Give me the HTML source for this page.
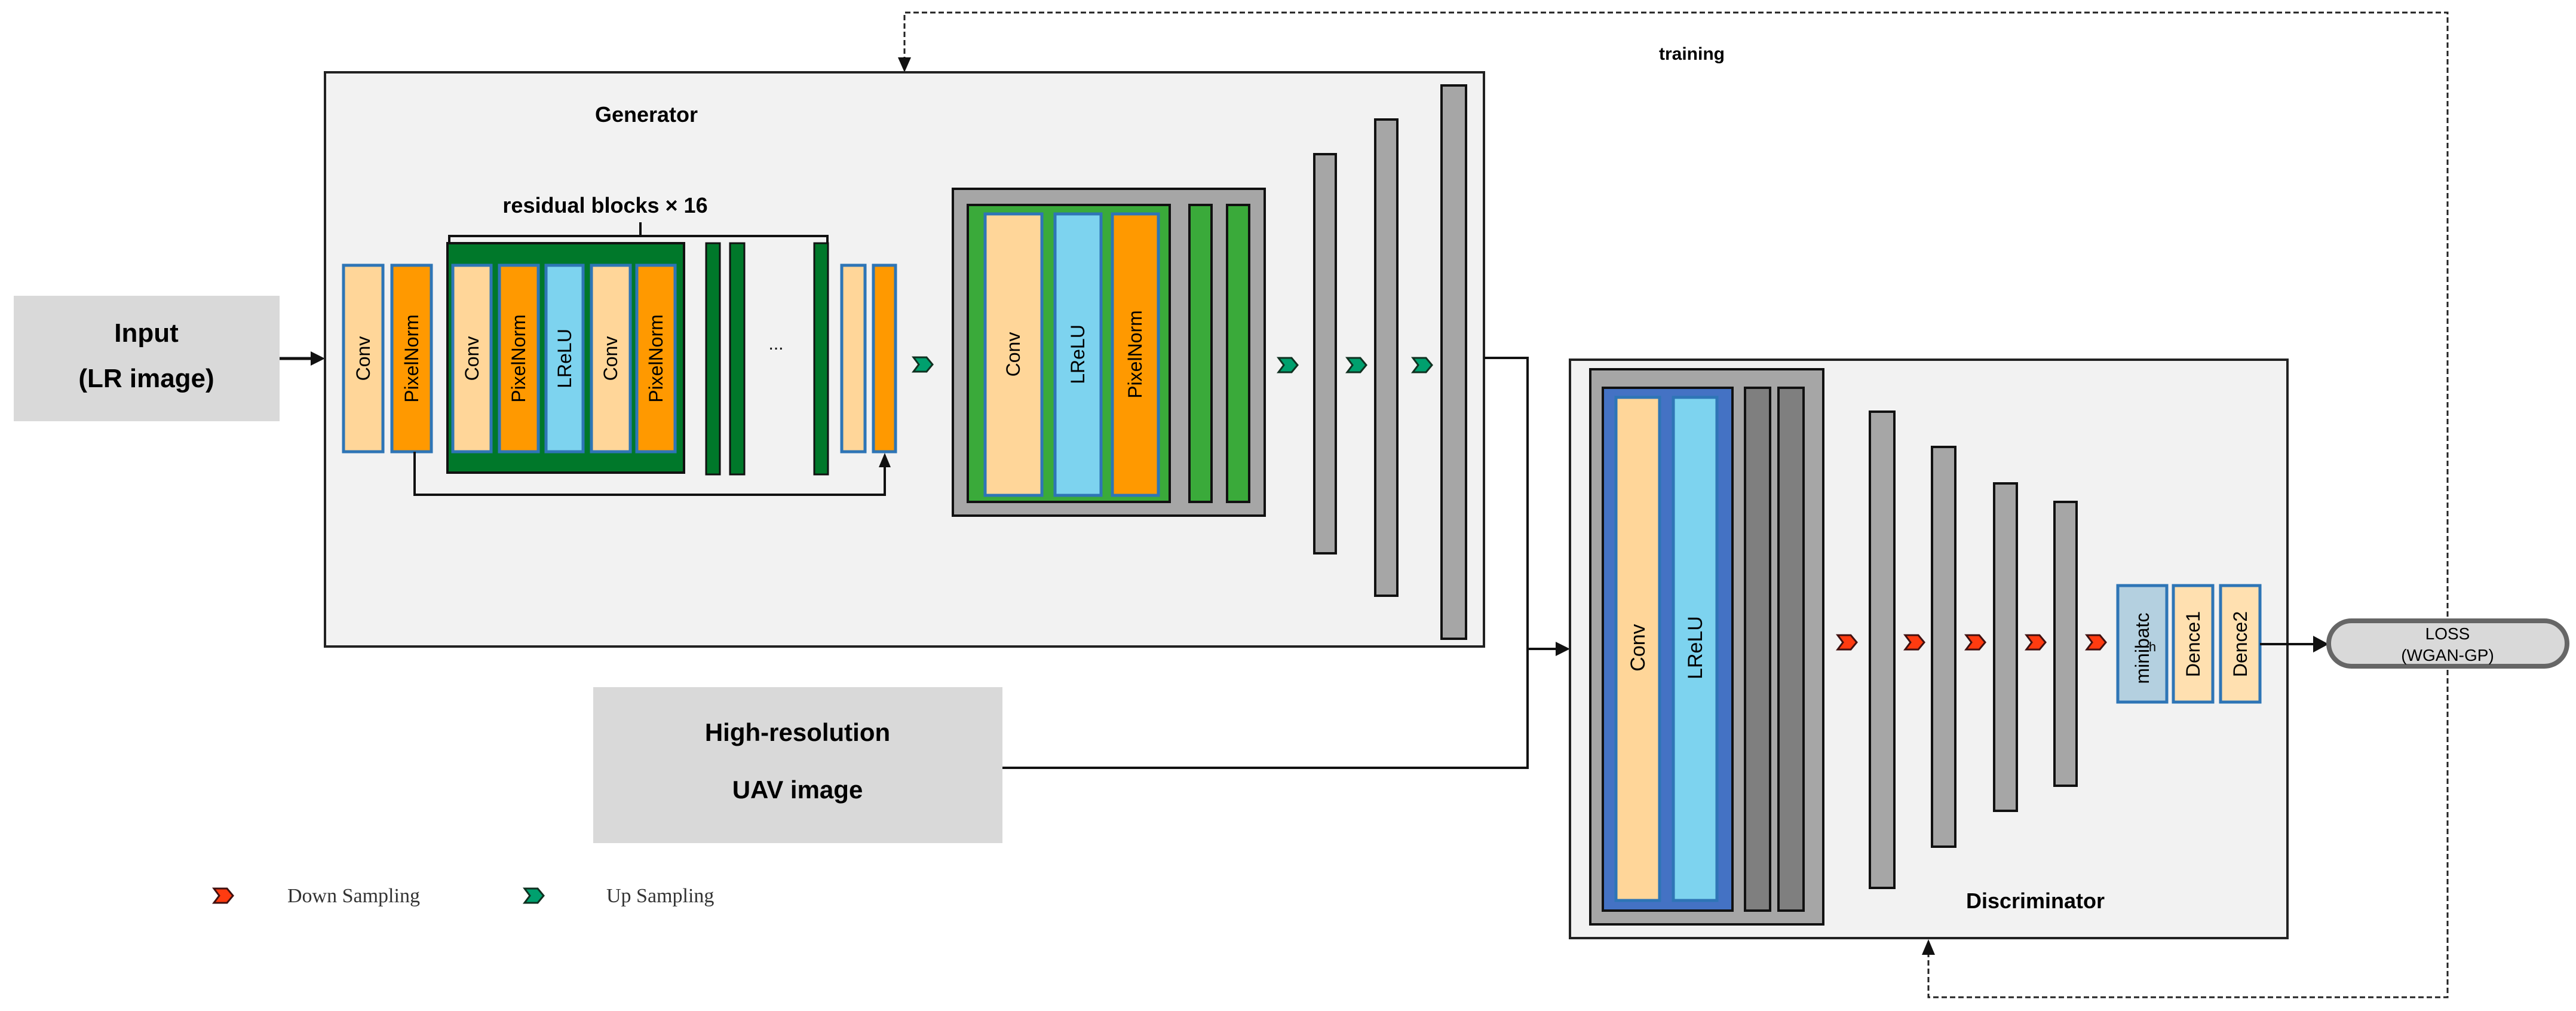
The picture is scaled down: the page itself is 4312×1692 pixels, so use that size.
<!DOCTYPE html>
<html><head><meta charset="utf-8"><style>
html,body{margin:0;padding:0;background:#fff;}
svg{display:block;}
text{font-family:"Liberation Sans",sans-serif;}
</style></head><body>
<svg width="4312" height="1692" viewBox="0 0 4312 1692" xmlns="http://www.w3.org/2000/svg">
<defs>
<marker id="ah" viewBox="0 0 10 10" refX="9" refY="5" markerWidth="7" markerHeight="7" orient="auto-start-reverse" markerUnits="userSpaceOnUse"><path d="M0,0 L10,5 L0,10 z" fill="#111"/></marker>
<marker id="ab" viewBox="0 0 10 10" refX="9" refY="5" markerWidth="22" markerHeight="22" orient="auto" markerUnits="userSpaceOnUse"><path d="M0,0 L10,5 L0,10 z" fill="#111"/></marker>
<g id="gch"><polygon points="0,0 22,0 32,12 22,24 0,24 9,12" fill="#00a06e" stroke="#103020" stroke-width="3"/></g>
<g id="rch"><polygon points="0,0 22,0 32,12 22,24 0,24 9,12" fill="#ff3b10" stroke="#401010" stroke-width="3"/></g>
</defs>

<!-- dashed training loop -->
<polyline points="1514,118 1514,21 4097,21 4097,1669 3228,1669 3228,1578" fill="none" stroke="#222" stroke-width="3" stroke-dasharray="9,5"/>
<path d="M1503,96 L1514,121 L1525,96 z" fill="#111"/>
<path d="M3217,1598 L3228,1572 L3239,1598 z" fill="#111"/>
<text x="2832" y="100" font-size="30" font-weight="bold" text-anchor="middle">training</text>

<!-- Input -->
<rect x="23" y="495" width="445" height="210" fill="#d9d9d9"/>
<text x="245" y="572" font-size="44" font-weight="bold" text-anchor="middle">Input</text>
<text x="245" y="648" font-size="44" font-weight="bold" text-anchor="middle">(LR image)</text>
<line x1="468" y1="600" x2="538" y2="600" stroke="#111" stroke-width="5"/>
<path d="M520,588 L544,600 L520,612 z" fill="#111"/>

<!-- Generator box -->
<rect x="544" y="121" width="1940" height="961" fill="#f2f2f2" stroke="#222" stroke-width="4"/>
<text x="1082" y="204" font-size="36" font-weight="bold" text-anchor="middle">Generator</text>

<text x="1013" y="356" font-size="36" font-weight="bold" text-anchor="middle">residual blocks × 16</text>
<polyline points="752,408 752,395 1385,395 1385,408" fill="none" stroke="#111" stroke-width="4"/>
<line x1="1072" y1="395" x2="1072" y2="372" stroke="#111" stroke-width="4"/>

<!-- first conv/pixelnorm -->
<rect x="575" y="444" width="66" height="312" fill="#ffd699" stroke="#2e75b6" stroke-width="5"/>
<text transform="translate(608,600) rotate(-90)" font-size="32" text-anchor="middle" dominant-baseline="central">Conv</text>
<rect x="656" y="444" width="66" height="312" fill="#ff9900" stroke="#2e75b6" stroke-width="5"/>
<text transform="translate(689,600) rotate(-90)" font-size="32" text-anchor="middle" dominant-baseline="central">PixelNorm</text>

<!-- residual block -->
<rect x="749" y="407" width="396" height="384" fill="#00782a" stroke="#111" stroke-width="4"/>
<rect x="758" y="444" width="64" height="312" fill="#ffd699" stroke="#2e75b6" stroke-width="5"/>
<text transform="translate(790,600) rotate(-90)" font-size="32" text-anchor="middle" dominant-baseline="central">Conv</text>
<rect x="836" y="444" width="65" height="312" fill="#ff9900" stroke="#2e75b6" stroke-width="5"/>
<text transform="translate(868,600) rotate(-90)" font-size="32" text-anchor="middle" dominant-baseline="central">PixelNorm</text>
<rect x="914" y="444" width="62" height="312" fill="#7dd3ef" stroke="#2e75b6" stroke-width="5"/>
<text transform="translate(945,600) rotate(-90)" font-size="32" text-anchor="middle" dominant-baseline="central">LReLU</text>
<rect x="990" y="444" width="65" height="312" fill="#ffd699" stroke="#2e75b6" stroke-width="5"/>
<text transform="translate(1022,600) rotate(-90)" font-size="32" text-anchor="middle" dominant-baseline="central">Conv</text>
<rect x="1066" y="444" width="64" height="312" fill="#ff9900" stroke="#2e75b6" stroke-width="5"/>
<text transform="translate(1098,600) rotate(-90)" font-size="32" text-anchor="middle" dominant-baseline="central">PixelNorm</text>

<rect x="1182" y="407" width="23" height="387" fill="#00782a" stroke="#111" stroke-width="3"/>
<rect x="1222" y="407" width="24" height="387" fill="#00782a" stroke="#111" stroke-width="3"/>
<rect x="1363" y="407" width="23" height="387" fill="#00782a" stroke="#111" stroke-width="3"/>
<text x="1299" y="585" font-size="30" text-anchor="middle">...</text>

<rect x="1409" y="444" width="39" height="312" fill="#ffd699" stroke="#2e75b6" stroke-width="5"/>
<rect x="1462" y="444" width="37" height="312" fill="#ff9900" stroke="#2e75b6" stroke-width="5"/>
<polyline points="694,756 694,828 1481,828 1481,770" fill="none" stroke="#111" stroke-width="4"/>
<path d="M1471,782 L1481,758 L1491,782 z" fill="#111"/>

<use href="#gch" x="1529" y="598"/>

<!-- big block -->
<rect x="1595" y="316" width="522" height="547" fill="#a6a6a6" stroke="#111" stroke-width="4"/>
<rect x="1620" y="343" width="338" height="497" fill="#3aaa3a" stroke="#111" stroke-width="4"/>
<rect x="1649" y="358" width="95" height="471" fill="#ffd699" stroke="#2e75b6" stroke-width="5"/>
<text transform="translate(1696,593) rotate(-90)" font-size="32" text-anchor="middle" dominant-baseline="central">Conv</text>
<rect x="1766" y="358" width="77" height="471" fill="#7dd3ef" stroke="#2e75b6" stroke-width="5"/>
<text transform="translate(1804,593) rotate(-90)" font-size="32" text-anchor="middle" dominant-baseline="central">LReLU</text>
<rect x="1862" y="358" width="77" height="471" fill="#ff9900" stroke="#2e75b6" stroke-width="5"/>
<text transform="translate(1900,593) rotate(-90)" font-size="32" text-anchor="middle" dominant-baseline="central">PixelNorm</text>
<rect x="1991" y="343" width="37" height="497" fill="#3aaa3a" stroke="#111" stroke-width="4"/>
<rect x="2054" y="343" width="37" height="497" fill="#3aaa3a" stroke="#111" stroke-width="4"/>

<use href="#gch" x="2140" y="599"/>
<use href="#gch" x="2255" y="599"/>
<use href="#gch" x="2365" y="599"/>
<rect x="2200" y="258" width="36" height="668" fill="#a6a6a6" stroke="#111" stroke-width="4"/>
<rect x="2302" y="200" width="37" height="797" fill="#a6a6a6" stroke="#111" stroke-width="4"/>
<rect x="2413" y="143" width="41" height="926" fill="#a6a6a6" stroke="#111" stroke-width="4"/>

<!-- connections to discriminator -->
<polyline points="2484,599 2557,599 2557,1285 1678,1285" fill="none" stroke="#111" stroke-width="4"/>
<line x1="2557" y1="1086" x2="2606" y2="1086" stroke="#111" stroke-width="4"/>
<path d="M2604,1074 L2628,1086 L2604,1098 z" fill="#111"/>

<!-- HR box -->
<rect x="993" y="1150" width="685" height="261" fill="#d9d9d9"/>
<text x="1335" y="1240" font-size="42" font-weight="bold" text-anchor="middle">High-resolution</text>
<text x="1335" y="1336" font-size="42" font-weight="bold" text-anchor="middle">UAV image</text>

<!-- Discriminator -->
<rect x="2628" y="602" width="1201" height="968" fill="#f2f2f2" stroke="#222" stroke-width="4"/>
<rect x="2662" y="618" width="390" height="929" fill="#a6a6a6" stroke="#111" stroke-width="4"/>
<rect x="2683" y="649" width="217" height="875" fill="#4472c4" stroke="#111" stroke-width="4"/>
<rect x="2705" y="665" width="73" height="842" fill="#ffd699" stroke="#2e75b6" stroke-width="5"/>
<text transform="translate(2742,1084) rotate(-90)" font-size="34" text-anchor="middle" dominant-baseline="central">Conv</text>
<rect x="2801" y="665" width="73" height="842" fill="#7dd3ef" stroke="#2e75b6" stroke-width="5"/>
<text transform="translate(2838,1084) rotate(-90)" font-size="34" text-anchor="middle" dominant-baseline="central">LReLU</text>
<rect x="2921" y="649" width="42" height="875" fill="#7f7f7f" stroke="#111" stroke-width="4"/>
<rect x="2977" y="649" width="42" height="875" fill="#7f7f7f" stroke="#111" stroke-width="4"/>

<rect x="3130" y="689" width="41" height="797" fill="#a6a6a6" stroke="#111" stroke-width="4"/>
<rect x="3234" y="748" width="39" height="669" fill="#a6a6a6" stroke="#111" stroke-width="4"/>
<rect x="3338" y="809" width="38" height="548" fill="#a6a6a6" stroke="#111" stroke-width="4"/>
<rect x="3439" y="840" width="37" height="475" fill="#a6a6a6" stroke="#111" stroke-width="4"/>
<use href="#rch" x="3076" y="1063"/>
<use href="#rch" x="3189" y="1063"/>
<use href="#rch" x="3291" y="1063"/>
<use href="#rch" x="3392" y="1063"/>
<use href="#rch" x="3493" y="1063"/>

<rect x="3545" y="980" width="82" height="195" fill="#b4d0e0" stroke="#2e75b6" stroke-width="5"/>
<text transform="translate(3586,1085) rotate(-90)" font-size="32" text-anchor="middle" dominant-baseline="central">minibatc</text>
<text x="3603" y="1090" font-size="22" text-anchor="middle">h</text>
<rect x="3638" y="980" width="66" height="195" fill="#ffe0b0" stroke="#2e75b6" stroke-width="5"/>
<text transform="translate(3671,1078) rotate(-90)" font-size="32" text-anchor="middle" dominant-baseline="central">Dence1</text>
<rect x="3717" y="980" width="66" height="195" fill="#ffe0b0" stroke="#2e75b6" stroke-width="5"/>
<text transform="translate(3750,1078) rotate(-90)" font-size="32" text-anchor="middle" dominant-baseline="central">Dence2</text>
<text x="3407" y="1520" font-size="36" font-weight="bold" text-anchor="middle">Discriminator</text>

<line x1="3783" y1="1078" x2="3876" y2="1078" stroke="#111" stroke-width="4"/>
<path d="M3872,1064 L3898,1078 L3872,1092 z" fill="#111"/>
<rect x="3898" y="1039" width="399" height="76" rx="38" fill="#d9d9d9" stroke="#666" stroke-width="8"/>
<text x="4097" y="1070" font-size="28" text-anchor="middle">LOSS</text>
<text x="4097" y="1106" font-size="28" text-anchor="middle">(WGAN-GP)</text>

<!-- legend -->
<use href="#rch" x="358" y="1487"/>
<text x="481" y="1510" font-size="34" font-family="Liberation Serif, serif" style="font-family:'Liberation Serif',serif" fill="#333">Down Sampling</text>
<use href="#gch" x="878" y="1487"/>
<text x="1015" y="1510" font-size="34" style="font-family:'Liberation Serif',serif" fill="#333">Up Sampling</text>
</svg>
</body></html>
